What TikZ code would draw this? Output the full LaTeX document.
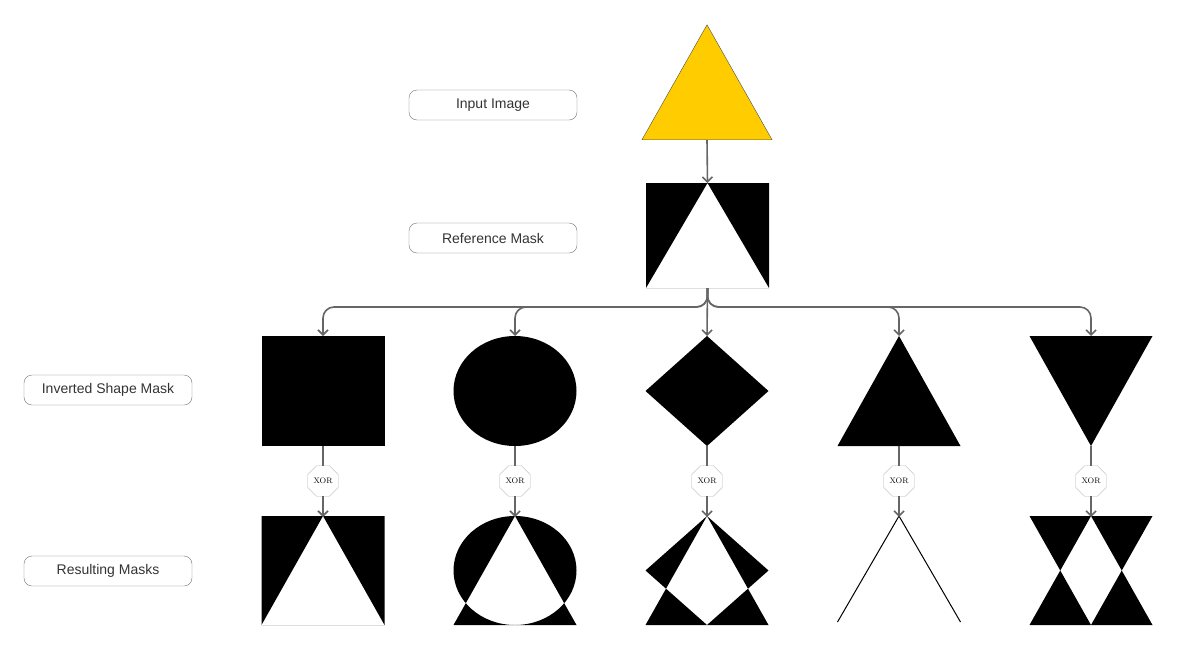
\documentclass[tikz,border=0pt]{standalone}
\usepackage{fontspec}
\setsansfont{Liberation Sans}
\usetikzlibrary{shapes.geometric,arrows.meta}
\begin{document}
\begin{tikzpicture}[x=1pt,y=-1pt,
  lbl/.style={draw=black!55,rounded corners=8pt,minimum width=168pt,minimum height=30pt,inner sep=0pt,font=\sffamily\fontsize{14}{16}\selectfont,text=black!80},
  mbox/.style={minimum width=123pt,minimum height=#1,inner sep=0pt,outer sep=0pt},
  xorn/.style={regular polygon,regular polygon sides=8,draw=black!30,fill=white,minimum size=33pt,inner sep=0pt,font=\fontsize{8}{9}\selectfont},
  conn/.style={draw=black!60,line width=1.6pt},
  arr/.style={conn,-{Straight Barb[length=5pt,width=10pt]}}]
\useasboundingbox (0,0) rectangle (1178,651);
% labels
\node[lbl] (l1) at (493,105) {Input Image};
\node[lbl] (l2) at (493,238) {Reference Mask};
\node[lbl] (l3) at (108,390) {Inverted Shape Mask};
\node[lbl] (l4) at (108,571) {Resulting Masks};
% input image
\node[draw=black!70,fill={rgb,255:red,255;green,204;blue,0},isosceles triangle,isosceles triangle apex angle=59,shape border rotate=90,minimum height=115pt,inner sep=0pt,anchor=south] (inp) at (707,140) {};
% reference mask
\node[mbox=105pt] (refm) at (707.5,235.5) {};
\fill[even odd rule] (646,183) rectangle (769,288) (707.5,183) -- (646,288) -- (769,288) -- cycle;
% shape masks
\foreach \i/\cx in {1/323,2/515,3/707,4/899,5/1091}{
  \node[mbox=110pt] (s\i) at (\cx,391) {};
  \node[xorn] (x\i) at (\cx,481) {XOR};
  \node[mbox=109pt] (r\i) at (\cx,570.5) {};
}
\fill (261.5,336) rectangle (384.5,446);
\fill (515,391) ellipse [x radius=61.5, y radius=55];
\fill (707,336) -- (768.5,391) -- (707,446) -- (645.5,391) -- cycle;
\fill (899,336) -- (960.5,446) -- (837.5,446) -- cycle;
\fill (1029.5,336) -- (1152.5,336) -- (1091,446) -- cycle;
% results
\fill[even odd rule] (261.5,516) rectangle (384.5,625) (323,516) -- (261.5,625) -- (384.5,625) -- cycle;
\begin{scope}
\clip (453.5,516) rectangle (576.5,625);
\fill[even odd rule] (515,570.5) ellipse [x radius=61.5, y radius=54.5] (515,516) -- (453.5,625) -- (576.5,625) -- cycle;
\end{scope}
\fill[even odd rule] (707,516) -- (768.5,570.5) -- (707,625) -- (645.5,570.5) -- cycle (707,516) -- (645.5,625) -- (768.5,625) -- cycle;
\draw[line width=1pt] (837.5,622) -- (899,516) -- (960.5,622);
\fill[even odd rule] (1029.5,516) -- (1152.5,516) -- (1091,625) -- cycle (1091,516) -- (1029.5,625) -- (1152.5,625) -- cycle;
% connectors
\draw[arr] (inp.south) -- (refm.north);
\foreach \i in {1,2,4,5}{
  \draw[arr,rounded corners=11pt] (refm.south) -- ++(0,19) -| (s\i.north);
}
\draw[arr] (refm.south) -- (s3.north);
\foreach \i in {1,...,5}{
  \draw[conn] (s\i.south) -- (x\i);
  \draw[arr] (x\i) -- ([yshift=-1pt]r\i.north);
}
\end{tikzpicture}
\end{document}
